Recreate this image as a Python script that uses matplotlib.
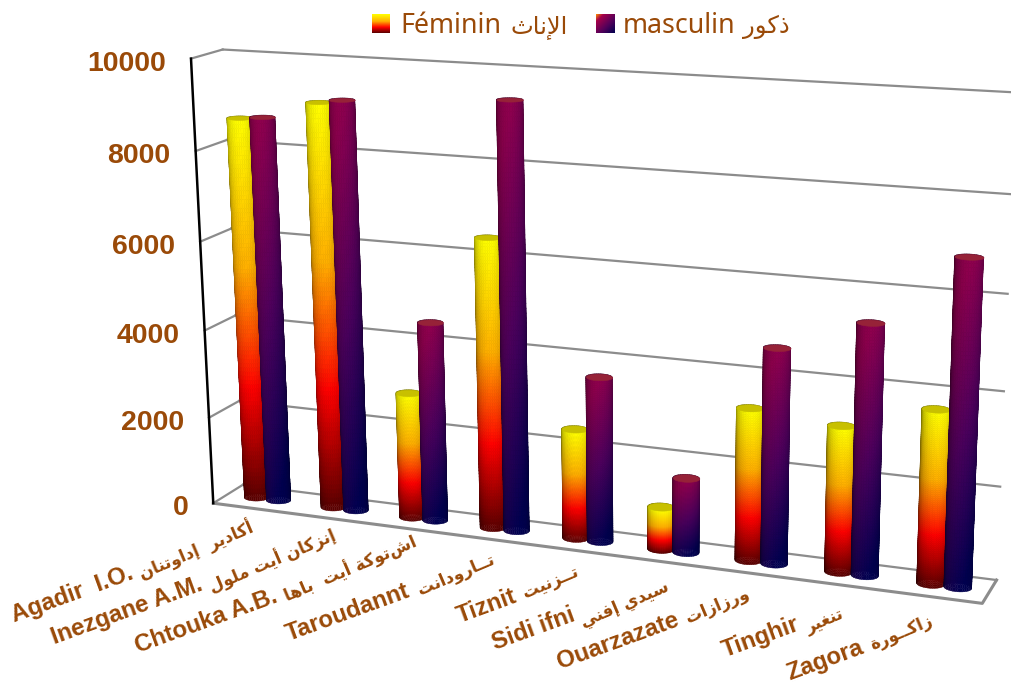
import numpy as np
import matplotlib
matplotlib.use("Agg")
import matplotlib.pyplot as plt
from matplotlib.colors import LinearSegmentedColormap
from mpl_toolkits.mplot3d import proj3d
from mpl_toolkits.mplot3d.art3d import Poly3DCollection

# chart values
categories_fr = ["Agadir  I.O.", "Inezgane A.M.", "Chtouka A.B.", "Taroudannt", "Tiznit",
                 "Sidi ifni", "Ouarzazate", "Tinghir", "Zagora"]
categories_ar = ["أكادير  إداوتنان", "إنزكان أيت ملول", "اشتوكة أيت  باها", "تــارودانت", "تــزنيت",
                 "سيدي إفني", "ورزازات", "تنغير", "زاكــورة"]
feminin = [8650, 9100, 2850, 6450, 2450, 950, 3320, 3150, 3700]
masculin = [8700, 9180, 4480, 9400, 3650, 1650, 4650, 5350, 6850]
ticks = [0, 2000, 4000, 6000, 8000, 10000]

BROWN = "#9A4A08"
W, H = 1011, 683

# label baselines in pixels
latin_xy = [(14, 622), (54, 644), (138, 653), (289, 641), (460, 623), (495, 650), (560, 669), (725, 657), (790, 680)]
arabic_xy = [(142, 580), (212, 593), (287, 602), (420, 595), (525, 598), (583, 627), (688, 623), (808, 633), (873, 650)]

# Arabic forms: isolated, final, initial, medial
FORMS = {
    "أ": (0xFE83, 0xFE84), "إ": (0xFE87, 0xFE88), "ا": (0xFE8D, 0xFE8E),
    "ب": (0xFE8F, 0xFE90, 0xFE91, 0xFE92), "ة": (0xFE93, 0xFE94),
    "ت": (0xFE95, 0xFE96, 0xFE97, 0xFE98), "ث": (0xFE99, 0xFE9A, 0xFE9B, 0xFE9C),
    "د": (0xFEA9, 0xFEAA), "ذ": (0xFEAB, 0xFEAC), "ر": (0xFEAD, 0xFEAE), "ز": (0xFEAF, 0xFEB0),
    "س": (0xFEB1, 0xFEB2, 0xFEB3, 0xFEB4), "غ": (0xFECD, 0xFECE, 0xFECF, 0xFED0),
    "ف": (0xFED1, 0xFED2, 0xFED3, 0xFED4), "ك": (0xFED9, 0xFEDA, 0xFEDB, 0xFEDC),
    "ل": (0xFEDD, 0xFEDE, 0xFEDF, 0xFEE0), "م": (0xFEE1, 0xFEE2, 0xFEE3, 0xFEE4),
    "ن": (0xFEE5, 0xFEE6, 0xFEE7, 0xFEE8), "ه": (0xFEE9, 0xFEEA, 0xFEEB, 0xFEEC),
    "و": (0xFEED, 0xFEEE), "ي": (0xFEF1, 0xFEF2, 0xFEF3, 0xFEF4),
    "ـ": (0x640, 0x640, 0x640, 0x640),
}


def shape(word):
    # matplotlib has no Arabic shaping, so pick the joined forms and lay them out right to left
    word = word.replace("لإ", "\uFEF9").replace("لا", "\uFEFB")
    out = []
    for i, c in enumerate(word):
        if c not in FORMS and c not in "\uFEF9\uFEFB":
            out.append(c)
            continue
        prev = word[i - 1] if i else " "
        after_join = prev in FORMS and len(FORMS[prev]) == 4
        if c in "\uFEF9\uFEFB":
            out.append(chr(ord(c) + 1) if after_join else c)
            continue
        f = FORMS[c]
        next_join = i + 1 < len(word) and (word[i + 1] in FORMS or word[i + 1] in "\uFEF9\uFEFB") and len(f) == 4
        if after_join and next_join:
            out.append(chr(f[3]))
        elif after_join:
            out.append(chr(f[1]))
        elif next_join:
            out.append(chr(f[2]))
        else:
            out.append(chr(f[0]))
    return "".join(out[::-1])


fig = plt.figure(figsize=(W / 100, H / 100), dpi=100, facecolor="white")

# camera fitted to the wall corners of the picture
ASPECT_X, ASPECT_Y = 1.7361, 0.1353
ELEV, AZIM, ROLL, FOCAL = 14.8611, -68.5553, 0.4607, 0.3320
S, CX, CY = 7239.5 / 5.4054, 584.3, 313.2
ax = fig.add_axes([(CX - S * 0.5135) / W, (H - CY - S * 0.5135) / H, S / W, S / H],
                  projection="3d", computed_zorder=False)
ax.set_xlim(0, 9, view_margin=0)
ax.set_ylim(0, 1, view_margin=0)
ax.set_zlim(0, 10000, view_margin=0)
ax.set_box_aspect((ASPECT_X, ASPECT_Y, 1), zoom=0.7)
ax.view_init(elev=ELEV, azim=AZIM, roll=ROLL)
ax.set_proj_type("persp", focal_length=FOCAL)
ax.set_axis_off()

R_X = 0.145
R_Y = 0.85 * R_X * (ASPECT_X / 9) / ASPECT_Y
YC = 0.5
azim = np.deg2rad(AZIM)
cam = np.array([np.cos(azim), np.sin(azim)])
right = np.array([-np.sin(azim), np.cos(azim)])

fem_map = LinearSegmentedColormap.from_list("fem", [(0, "#FFFF00"), (0.38, "#FFB000"), (0.7, "#FF0000"), (1, "#5A0000")])
mas_map = LinearSegmentedColormap.from_list("mas", [(0, "#8F004E"), (0.5, "#4C005C"), (1, "#00004F")])


def cylinder(xc, h, cmap, skew, cap, z):
    th = np.linspace(0, 2 * np.pi, 37)
    zz = np.linspace(0, h, 90)
    T, Z = np.meshgrid(th, zz)
    X = xc + R_X * np.cos(T)
    Y = YC + R_Y * np.sin(T)
    facing = np.cos(T) * cam[0] + np.sin(T) * cam[1]
    side = np.cos(T) * right[0] + np.sin(T) * right[1]
    cols = cmap(np.clip(1 - Z / h + skew * side, 0, 1))
    cols[..., :3] *= (0.5 + 0.5 * np.clip(facing, 0, 1) ** 0.6)[..., None]
    ax.plot_surface(X, Y, Z, facecolors=cols, rstride=1, cstride=1, shade=False, linewidth=0.3, zorder=z)
    top = np.c_[xc + R_X * np.cos(th), YC + R_Y * np.sin(th), np.full(th.shape, h)]
    ax.add_collection3d(Poly3DCollection([top], facecolor=cap, edgecolor=cap, linewidth=0.4, zorder=z + 0.1))


GRID = "#8C8C8C"
M = ax.get_proj()
for t in ticks:
    ax.plot([0, 9], [1, 1], [t, t], color=GRID, lw=1.6, zorder=1)
    ax.plot([0, 0], [0, 1], [t, t], color=GRID, lw=1.6, zorder=1)
    px, py, _ = proj3d.proj_transform(0, 0, t, M)
    ax.annotate(str(t), xy=(px, py), xycoords="data", xytext=(-25, -5), textcoords="offset pixels",
                ha="right", va="center", color=BROWN, fontsize=20.5, fontweight="bold", family="Liberation Sans")
ax.plot([0, 9, 9], [0, 0, 1], [0, 0, 0], color=GRID, lw=2.2, zorder=1)
ax.plot([0, 0], [0, 0], [0, 10000], color="black", lw=1.8, zorder=2)

order = 3
for i in range(len(feminin)):
    cylinder(i + 0.52 - R_X, feminin[i], fem_map, 0.0, "#C8C000", order)
    cylinder(i + 0.52 + R_X, masculin[i], mas_map, 0.14, "#962238", order + 1)
    order += 2

for i in range(len(categories_fr)):
    x, y = latin_xy[i]
    fig.text(x / W, 1 - y / H, categories_fr[i], rotation=20, rotation_mode="anchor", ha="left", va="baseline",
             color=BROWN, fontsize=17.3, fontweight="bold", family="Liberation Sans")
    x, y = arabic_xy[i]
    fig.text(x / W, 1 - y / H, shape(categories_ar[i]), rotation=23, rotation_mode="anchor", ha="left", va="baseline",
             color=BROWN, fontsize=12, fontweight="bold", family="DejaVu Sans")

# legend
grad = np.linspace(0, 1, 64)[:, None]
lax = fig.add_axes([372 / W, 1 - 33 / H, 18 / W, 19 / H])
lax.imshow(fem_map(grad), aspect="auto")
lax.axis("off")
gx, gy = np.meshgrid(np.linspace(0, 1, 64), np.linspace(0, 1, 64))
legend_mas = LinearSegmentedColormap.from_list("mas2", [(0, "#FF9000"), (0.2, "#A5004A"), (0.6, "#55005A"), (1, "#00004F")])
lax = fig.add_axes([596 / W, 1 - 33 / H, 19 / W, 19 / H])
lax.imshow(legend_mas((gx + gy) / 2), aspect="auto")
lax.axis("off")
for x, txt in [(400, "Féminin"), (623, "masculin")]:
    fig.text(x / W, 1 - 33 / H, txt, color=BROWN, fontsize=19.3, va="baseline", family="Noto Sans")
for x, txt in [(510, "الإناث"), (743, "ذكور")]:
    fig.text(x / W, 1 - 33 / H, shape(txt), color=BROWN, fontsize=17.5, va="baseline", family="DejaVu Sans")

fig.savefig("out.png", dpi=100, facecolor="white")
